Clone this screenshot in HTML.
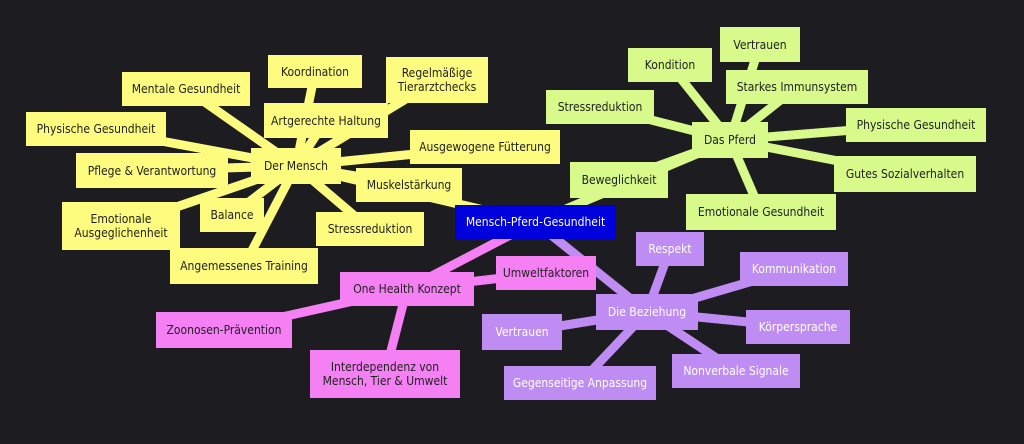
<!DOCTYPE html>
<html><head><meta charset="utf-8"><style>
html,body{margin:0;padding:0;background:#1d1d21;}
#c{position:relative;width:1024px;height:444px;overflow:hidden;background:#1d1d21;font-family:"DejaVu Sans Condensed","DejaVu Sans","Liberation Sans",sans-serif;font-size:12px;}
.b{position:absolute;display:flex;align-items:center;justify-content:center;text-align:center;line-height:14px;color:#222;box-sizing:border-box;}
.y{background:#fdfc7f}.g{background:#d7fa8b}.p{background:#f480f4}.v{background:#bf8cf4;color:#fff}
.m{background:#0000dd;color:#fff}
svg{position:absolute;left:0;top:0}
</style></head><body><div id="c">
<svg width="1024" height="444">
<g stroke-linecap="butt" stroke-width="9">
<g stroke="#fdfc7f">
<line x1="535" y1="222" x2="296" y2="166"/>
<line x1="296" y1="166" x2="186" y2="89"/>
<line x1="296" y1="166" x2="315" y2="72"/>
<line x1="296" y1="166" x2="437" y2="80"/>
<line x1="296" y1="166" x2="326" y2="120"/>
<line x1="296" y1="166" x2="96" y2="129"/>
<line x1="296" y1="166" x2="485" y2="147"/>
<line x1="296" y1="166" x2="152" y2="170"/>
<line x1="296" y1="166" x2="409" y2="185"/>
<line x1="296" y1="166" x2="121" y2="226"/>
<line x1="296" y1="166" x2="232" y2="215"/>
<line x1="296" y1="166" x2="370" y2="229"/>
<line x1="296" y1="166" x2="244" y2="266"/>
</g>
<g stroke="#d7fa8b">
<line x1="535" y1="222" x2="730" y2="140"/>
<line x1="730" y1="140" x2="670" y2="65"/>
<line x1="730" y1="140" x2="760" y2="44"/>
<line x1="730" y1="140" x2="797" y2="87"/>
<line x1="730" y1="140" x2="600" y2="107"/>
<line x1="730" y1="140" x2="916" y2="125"/>
<line x1="730" y1="140" x2="619" y2="180"/>
<line x1="730" y1="140" x2="905" y2="174"/>
<line x1="730" y1="140" x2="761" y2="212"/>
</g>
<g stroke="#f480f4">
<line x1="535" y1="222" x2="407" y2="289"/>
<line x1="407" y1="289" x2="546" y2="273"/>
<line x1="407" y1="289" x2="224" y2="330"/>
<line x1="407" y1="289" x2="385" y2="374"/>
</g>
<g stroke="#bf8cf4">
<line x1="535" y1="222" x2="647" y2="312"/>
<line x1="647" y1="312" x2="670" y2="249"/>
<line x1="647" y1="312" x2="794" y2="269"/>
<line x1="647" y1="312" x2="522" y2="332"/>
<line x1="647" y1="312" x2="798" y2="327"/>
<line x1="647" y1="312" x2="736" y2="371"/>
<line x1="647" y1="312" x2="580" y2="383"/>
</g>
</g></svg>
<div class="b y" style="left:122px;top:72px;width:128px;height:34px">Mentale Gesundheit</div>
<div class="b y" style="left:268px;top:55px;width:94px;height:33px">Koordination</div>
<div class="b y" style="left:386px;top:57px;width:102px;height:46px">Regelmäßige<br>Tierarztchecks</div>
<div class="b y" style="left:264px;top:103px;width:124px;height:35px">Artgerechte Haltung</div>
<div class="b y" style="left:26px;top:112px;width:140px;height:34px">Physische Gesundheit</div>
<div class="b y" style="left:410px;top:130px;width:150px;height:34px">Ausgewogene Fütterung</div>
<div class="b y" style="left:76px;top:153px;width:152px;height:35px">Pflege &amp; Verantwortung</div>
<div class="b y" style="left:251px;top:148px;width:90px;height:36px">Der Mensch</div>
<div class="b y" style="left:356px;top:168px;width:106px;height:34px">Muskelstärkung</div>
<div class="b y" style="left:62px;top:202px;width:118px;height:48px">Emotionale<br>Ausgeglichenheit</div>
<div class="b y" style="left:200px;top:198px;width:64px;height:34px">Balance</div>
<div class="b y" style="left:316px;top:212px;width:108px;height:34px">Stressreduktion</div>
<div class="b y" style="left:170px;top:248px;width:148px;height:36px">Angemessenes Training</div>
<div class="b g" style="left:628px;top:48px;width:84px;height:34px">Kondition</div>
<div class="b g" style="left:720px;top:27px;width:80px;height:35px">Vertrauen</div>
<div class="b g" style="left:726px;top:70px;width:142px;height:34px">Starkes Immunsystem</div>
<div class="b g" style="left:546px;top:90px;width:108px;height:34px">Stressreduktion</div>
<div class="b g" style="left:846px;top:108px;width:140px;height:34px">Physische Gesundheit</div>
<div class="b g" style="left:692px;top:122px;width:76px;height:36px">Das Pferd</div>
<div class="b g" style="left:570px;top:162px;width:98px;height:36px">Beweglichkeit</div>
<div class="b g" style="left:834px;top:156px;width:142px;height:36px">Gutes Sozialverhalten</div>
<div class="b g" style="left:686px;top:194px;width:150px;height:36px">Emotionale Gesundheit</div>
<div class="b m" style="left:455px;top:205px;width:161px;height:34px">Mensch-Pferd-Gesundheit</div>
<div class="b p" style="left:340px;top:272px;width:134px;height:34px">One Health Konzept</div>
<div class="b p" style="left:496px;top:256px;width:100px;height:34px">Umweltfaktoren</div>
<div class="b p" style="left:156px;top:312px;width:136px;height:36px">Zoonosen-Prävention</div>
<div class="b p" style="left:310px;top:350px;width:150px;height:48px">Interdependenz von<br>Mensch, Tier &amp; Umwelt</div>
<div class="b v" style="left:596px;top:294px;width:102px;height:36px">Die Beziehung</div>
<div class="b v" style="left:636px;top:232px;width:68px;height:34px">Respekt</div>
<div class="b v" style="left:740px;top:252px;width:108px;height:34px">Kommunikation</div>
<div class="b v" style="left:482px;top:314px;width:80px;height:36px">Vertrauen</div>
<div class="b v" style="left:746px;top:310px;width:104px;height:34px">Körpersprache</div>
<div class="b v" style="left:672px;top:354px;width:128px;height:34px">Nonverbale Signale</div>
<div class="b v" style="left:504px;top:366px;width:152px;height:34px">Gegenseitige Anpassung</div>
</div></body></html>
